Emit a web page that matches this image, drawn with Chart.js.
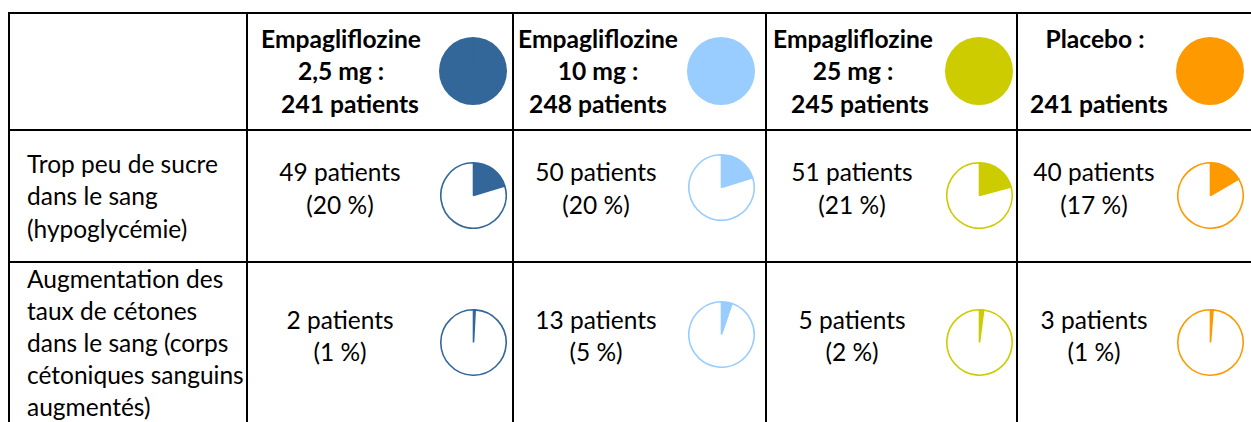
<!DOCTYPE html>
<html><head><meta charset="utf-8">
<script src="https://cdn.jsdelivr.net/npm/chart.js@4.4.1/dist/chart.umd.min.js"></script>
<style>
html,body{margin:0;padding:0;background:#fff;}
#wrap{position:relative;width:1251px;height:422px;overflow:hidden;background:#fff;color:#000;}
.hl{position:absolute;background:#000;height:2px;}
.vl{position:absolute;background:#000;width:2px;}
.t{position:absolute;white-space:pre;line-height:32px;}
canvas{position:absolute;}
</style></head><body><div id="wrap"></div>
<script>
// ---- data ----
const groupNames = ['Empagliflozine', 'Empagliflozine', 'Empagliflozine', 'Placebo :'];
const groupDoses = ['2,5 mg :', '10 mg :', '25 mg :', ''];
const groupTotals = [241, 248, 245, 241];
const rowLabelHypo = ['Trop peu de sucre', 'dans le sang', '(hypoglycémie)'];
const rowLabelKetone = ['Augmentation des', 'taux de cétones', 'dans le sang (corps', 'cétoniques sanguins', 'augmentés)'];
const hypoCounts = [49, 50, 51, 40];
const hypoPercents = [20, 20, 21, 17];
const ketoneCounts = [2, 13, 5, 3];
const ketonePercents = [1, 5, 2, 1];

// ---- style / layout ----
const colors = ['#336699', '#99CCFF', '#CCCC00', '#FF9900'];
const FAMILY = 'Lato, "Open Sans", sans-serif';
const wrap = document.getElementById('wrap');
const vLines = [8, 246, 512, 765, 1016];
const hLines = [12, 129, 261];
const headCx = [341, 598, 853, 1095];
const headCx3 = [350, 598, 860, 1099];
const bodyCx = [340, 596, 852, 1094];
const pieCx = [473, 721, 979, 1210];
const headPieCy = [70.5, 70.5, 70.5, 70.5];
const hypoPieCy = [195.5, 187, 195.5, 195.5];
const ketPieCy = [342, 334, 342, 342];

const ctx = document.createElement('canvas').getContext('2d');
function fit(text, weight, target) {
  ctx.font = weight + ' 100px ' + FAMILY;
  return 100 * target / ctx.measureText(text).width;
}
const regSize = fit('Trop peu de sucre', 'normal', 191);
const boldSize = fit('Empagliflozine', 'bold', 160);
function metrics(weight, size, capTarget) {
  ctx.font = weight + ' ' + size + 'px ' + FAMILY;
  const m = ctx.measureText('Hg');
  const cap = ctx.measureText('H').actualBoundingBoxAscent;
  return { off: 16 + (m.fontBoundingBoxAscent - m.fontBoundingBoxDescent) / 2,
           sy: Math.min(1.15, Math.max(1, capTarget / cap)) };
}
const regM = metrics('normal', regSize, 16.6);
const boldM = metrics('bold', boldSize, 16.2);

function text(str, x, baseline, bold, center) {
  const M = bold ? boldM : regM;
  const d = document.createElement('div');
  d.className = 't';
  d.textContent = str;
  d.style.fontFamily = FAMILY;
  d.style.fontWeight = bold ? 'bold' : 'normal';
  d.style.fontSize = (bold ? boldSize : regSize) + 'px';
  d.style.left = x + 'px';
  d.style.top = (baseline - M.off) + 'px';
  d.style.transformOrigin = '0 ' + M.off + 'px';
  d.style.transform = (center ? 'translateX(-50%) ' : '') + 'scaleY(' + M.sy + ')';
  wrap.appendChild(d);
}

// grid lines
hLines.forEach(y => { const d = document.createElement('div'); d.className = 'hl'; d.style.left = '8px'; d.style.width = '1300px'; d.style.top = y + 'px'; wrap.appendChild(d); });
vLines.forEach(x => { const d = document.createElement('div'); d.className = 'vl'; d.style.left = x + 'px'; d.style.top = '12px'; d.style.height = '420px'; wrap.appendChild(d); });

// header
const headBase = [48, 80.5, 113];
for (let i = 0; i < 4; i++) {
  text(groupNames[i], headCx[i], headBase[0], true, true);
  if (groupDoses[i]) text(groupDoses[i], headCx[i], headBase[1], true, true);
  text(groupTotals[i] + ' patients', headCx3[i], headBase[2], true, true);
}
// row labels
rowLabelHypo.forEach((s, j) => text(s, 27, 173.3 + 32.4 * j, false, false));
rowLabelKetone.forEach((s, j) => text(s, 27, 288 + 32.2 * j, false, false));
// body texts
for (let i = 0; i < 4; i++) {
  text(hypoCounts[i] + ' patients', bodyCx[i], 181.5, false, true);
  text('(' + hypoPercents[i] + ' %)', bodyCx[i], 214, false, true);
  text(ketoneCounts[i] + ' patient' + (ketoneCounts[i] > 1 ? 's' : ''), bodyCx[i], 329, false, true);
  text('(' + ketonePercents[i] + ' %)', bodyCx[i], 361, false, true);
}

// pies
function pie(cx, cy, size, values, bg, border, bw) {
  const cv = document.createElement('canvas');
  cv.width = size; cv.height = size;
  cv.style.left = (cx - size / 2) + 'px';
  cv.style.top = (cy - size / 2) + 'px';
  wrap.appendChild(cv);
  new Chart(cv, {
    type: 'pie',
    data: { labels: values.map((v, k) => 'k' + k), datasets: [{ data: values, backgroundColor: bg, borderColor: border, borderWidth: bw }] },
    options: { responsive: false, animation: false, events: [], layout: { padding: 0 },
      plugins: { legend: { display: false }, tooltip: { enabled: false } } }
  });
}
for (let i = 0; i < 4; i++) {
  pie(pieCx[i], headPieCy[i], 68, [groupTotals[i]], [colors[i]], colors[i], 0);
  pie(pieCx[i], hypoPieCy[i], 67, [hypoCounts[i], groupTotals[i] - hypoCounts[i]], [colors[i], '#ffffff'], colors[i], 1.6);
  pie(pieCx[i], ketPieCy[i], 67, [ketoneCounts[i], groupTotals[i] - ketoneCounts[i]], [colors[i], '#ffffff'], colors[i], 1.6);
}
</script></body></html>
